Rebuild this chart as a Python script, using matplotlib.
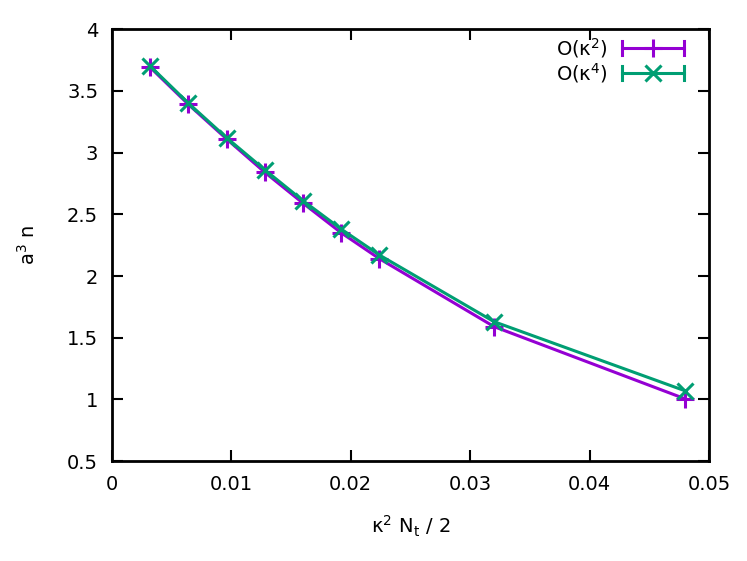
import matplotlib
matplotlib.use("Agg")
import matplotlib.pyplot as plt

plt.rcParams['font.family'] = ['DejaVu Sans']
plt.rcParams['mathtext.fontset'] = 'dejavusans'

# данные
x = [0.0032, 0.0064, 0.0096, 0.0128, 0.016, 0.0192, 0.0224, 0.032, 0.048]
y_k2 = [3.69, 3.39, 3.11, 2.84, 2.59, 2.35, 2.14, 1.59, 1.005]
y_k4 = [3.70, 3.40, 3.12, 2.86, 2.61, 2.38, 2.17, 1.63, 1.07]
labels = [r'O($\kappa^2$)', r'O($\kappa^4$)']

purple = '#9400d3'
green = '#009e73'

fig = plt.figure(figsize=(7.47, 5.61), dpi=100)
ax = fig.add_axes([0.15, 0.178, 0.799, 0.770])

ax.plot(x, y_k2, color=purple, lw=2.2, marker='+', ms=13, mew=2.2)
ax.plot(x, y_k4, color=green, lw=2.2, marker='x', ms=11, mew=2.2)

ax.set_xlim(0, 0.05)
ax.set_ylim(0.5, 4)
ax.set_xticks([0, 0.01, 0.02, 0.03, 0.04, 0.05])
ax.set_xticklabels(['0', '0.01', '0.02', '0.03', '0.04', '0.05'])
ax.set_yticks([0.5, 1, 1.5, 2, 2.5, 3, 3.5, 4])
ax.set_yticklabels(['0.5', '1', '1.5', '2', '2.5', '3', '3.5', '4'])
ax.tick_params(direction='in', length=8, width=1.5, top=True, right=True,
               labelsize=14, pad=10)
for s in ax.spines.values():
    s.set_linewidth(2)

ax.set_xlabel(r'$\mathregular{\kappa^2\ N_t\ /\ 2}$', fontsize=14, labelpad=14)
ax.set_ylabel(r'$\mathregular{a^3\ n}$', fontsize=14, labelpad=20)

# легенда в стиле gnuplot
for i, (lab, c, m, ms) in enumerate(zip(labels, [purple, green], ['+', 'x'], [13, 11])):
    yy = 0.957 - i * 0.058
    ax.text(0.83, yy, r'$\mathregular{' + lab.replace('$', '') + '}$', transform=ax.transAxes,
            ha='right', va='center', fontsize=14)
    ax.plot([0.855, 0.958], [yy, yy], color=c, lw=2.2, transform=ax.transAxes, clip_on=False)
    ax.plot([0.855, 0.855], [yy - 0.016, yy + 0.016], color=c, lw=2.2, transform=ax.transAxes)
    ax.plot([0.958, 0.958], [yy - 0.016, yy + 0.016], color=c, lw=2.2, transform=ax.transAxes)
    ax.plot([0.9065], [yy], color=c, marker=m, ms=ms, mew=2.2, transform=ax.transAxes)

fig.savefig('out.png', dpi=100)
